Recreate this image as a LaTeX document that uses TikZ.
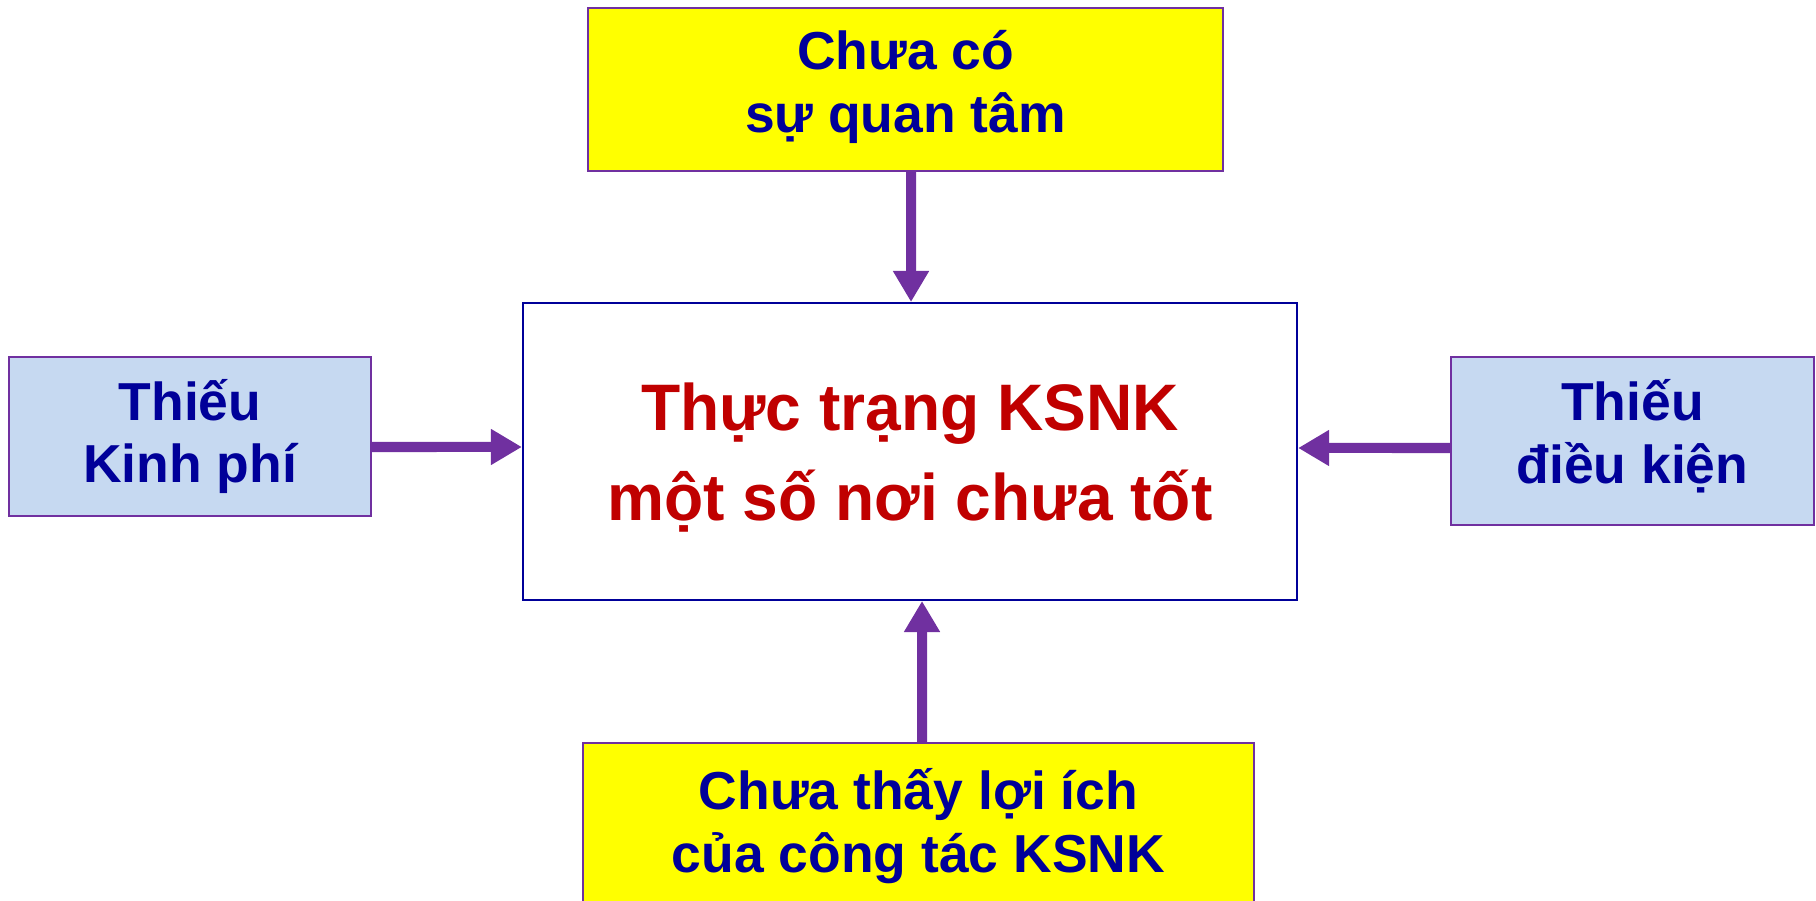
\documentclass[tikz,border=0pt]{standalone}
\usepackage{fontspec}
\setmainfont{Liberation Sans}
\newfontfamily\mainfnt[FakeStretch=0.975]{Liberation Sans}
\usetikzlibrary{arrows.meta}
\definecolor{dblue}{HTML}{000099}
\definecolor{purp}{HTML}{7030A0}
\definecolor{lblue}{HTML}{C6D9F1}
\definecolor{dred}{HTML}{C00000}
\definecolor{yel}{HTML}{FFFF00}
\tikzset{
  smallbox/.style={draw=purp, line width=0.02cm, rectangle, align=center, inner sep=0pt,
    text=dblue, font=\fontsize{15.2}{17.9}\selectfont\bfseries},
  yellowbox/.style={smallbox, fill=yel},
  bluebox/.style={smallbox, fill=lblue},
  smalltext/.style={align=center, inner sep=0pt, text=dblue, font=\fontsize{15.2}{17.9}\selectfont\bfseries},
  mainbox/.style={draw=dblue, line width=0.018cm, fill=white, rectangle, inner sep=0pt},
  maintext/.style={align=center, inner sep=0pt, text=dred, font=\mainfnt\fontsize{18.7}{25.8}\selectfont\bfseries},
  arr/.style={draw=purp, line width=0.1cm, -{Triangle[length=0.31cm,width=0.34cm]}}
}
\begin{document}
\begin{tikzpicture}[x=0.01cm,y=-0.01cm]
\useasboundingbox (0,0) rectangle (1816,901);
\clip (0,0) rectangle (1816,901);
\node[yellowbox, minimum width=6.35cm, minimum height=1.63cm] (top) at (905.5,89.5) {};
\node[smalltext] (toptext) at ([yshift=0.025cm]top.center) {Chưa có\\sự quan tâm};
\node[mainbox, minimum width=7.74cm, minimum height=2.97cm] (main) at (910,451.5) {};
\node[maintext] (maintxt) at ([yshift=-0.06cm]main.center) {Thực trạng KSNK\\một số nơi chưa tốt};
\node[bluebox, minimum width=3.62cm, minimum height=1.59cm] (left) at (190,436.5) {Thiếu\\Kinh phí};
\node[bluebox, minimum width=3.63cm, minimum height=1.68cm] (right) at (1632.5,441) {};
\node[smalltext] (righttext) at ([yshift=0.05cm]right.center) {Thiếu\\điều kiện};
\node[yellowbox, minimum width=6.71cm, minimum height=1.66cm] (bottom) at (918.5,826) {Chưa thấy lợi ích\\của công tác KSNK};
\draw[arr] ([xshift=0.055cm]top.south) -- ([xshift=0.01cm]main.north);
\draw[arr] ([xshift=0.035cm]bottom.north) -- ([xshift=0.12cm]main.south);
\draw[arr] ([yshift=-0.105cm]left.east) -- ([yshift=0.045cm]main.west);
\draw[arr] ([yshift=-0.07cm]right.west) -- ([yshift=0.035cm]main.east);
\end{tikzpicture}
\end{document}
